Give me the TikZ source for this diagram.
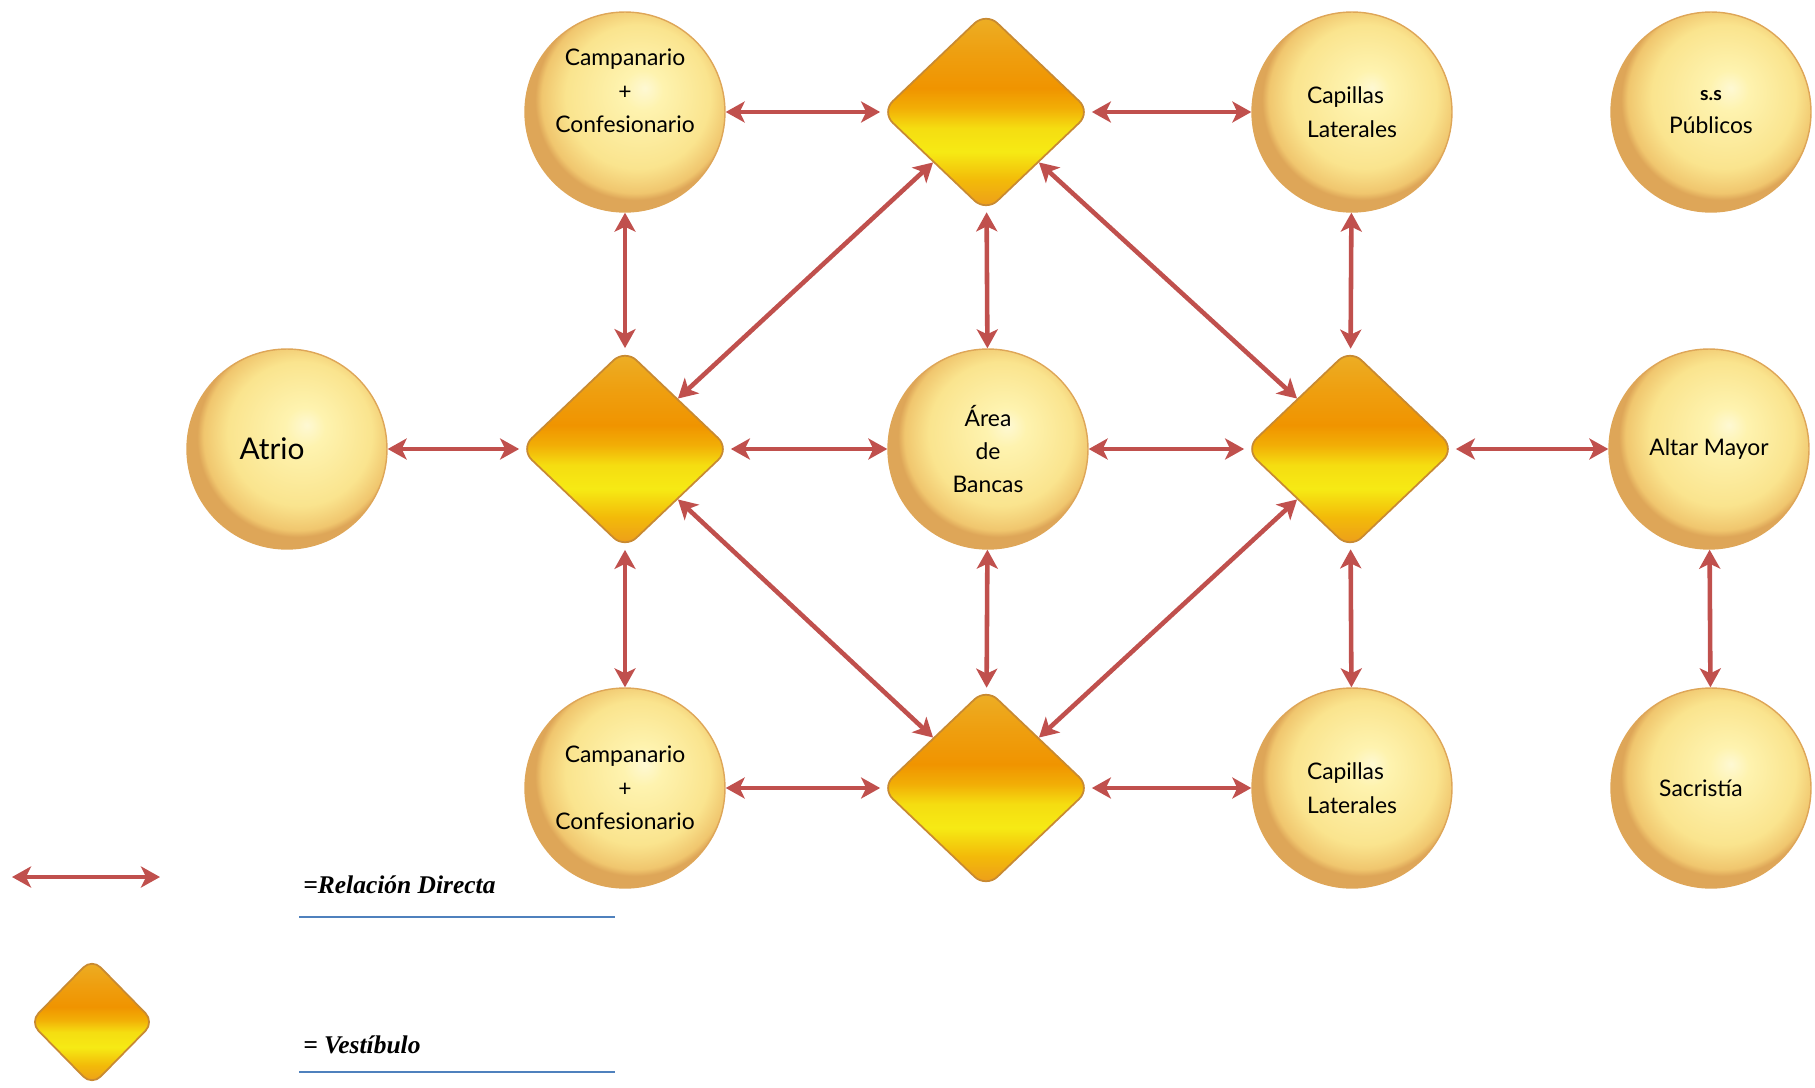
\documentclass[tikz,border=0pt]{standalone}
\usepackage{fontspec}
\setmainfont{Lato}
\newfontfamily\legendfont{Liberation Serif}
\usepackage{xcolor}
\usetikzlibrary{arrows.meta,positioning,shapes.geometric}

\definecolor{balllight}{RGB}{254,243,175}
\definecolor{ballmid}{RGB}{250,228,142}
\definecolor{ballrim}{RGB}{240,198,110}
\definecolor{balledge}{RGB}{222,166,88}
\definecolor{gemtop}{RGB}{236,176,40}
\definecolor{gemorange}{RGB}{240,148,0}
\definecolor{gemyellow}{RGB}{246,234,20}
\definecolor{gembottom}{RGB}{236,152,30}
\definecolor{gemedge}{RGB}{200,138,50}
\definecolor{linkred}{RGB}{192,80,77}
\definecolor{legblue}{RGB}{79,129,189}

\pgfdeclareradialshading{ballshade}{\pgfpoint{5bp}{6bp}}{color(0bp)=(white!45!balllight); color(5bp)=(balllight); color(18bp)=(ballmid); color(23.5bp)=(ballrim); color(25bp)=(balledge); color(50bp)=(balledge)}
\pgfdeclareverticalshading{gemshade}{100bp}{color(0bp)=(gembottom); color(25bp)=(gembottom); color(33bp)=(gemyellow!45!gemorange); color(40bp)=(gemyellow); color(46bp)=(gemyellow!85!gemorange); color(51bp)=(gemyellow!30!gemorange); color(56bp)=(gemorange); color(65bp)=(gemorange!60!gemtop); color(75bp)=(gemtop); color(100bp)=(gemtop)}

\begin{document}
\begin{tikzpicture}[
    x=0.02cm, y=-0.02cm,
    >={Stealth[length=0.38cm, width=0.42cm, inset=0.1cm]},
    font=\fontsize{13}{19}\selectfont,
    ball/.style={circle, minimum size=4cm, inner sep=0pt, align=center,
      draw=balledge, line width=0.8pt, shade, shading=ballshade},
    gem/.style={diamond, minimum width=4.2cm, minimum height=4cm, inner sep=0pt,
      rounded corners=9pt, draw=gemedge, line width=1pt, shade, shading=gemshade},
    link/.style={<->, draw=linkred, line width=2.6pt},
    legtext/.style={anchor=base west, inner sep=0pt,
      font=\legendfont\fontsize{14.5}{16}\selectfont\bfseries\itshape},
    legline/.style={draw=legblue, line width=1.3pt},
  ]
  \useasboundingbox (0,0) rectangle (1815,1088);

  % Top row
  \node[ball, text depth=0.84cm] (campA) at (625,112) {Campanario\\+\\Confesionario};
  \node[gem] (vestN) at (986,112) {};
  \node[ball, align=left] (capA) at (1352,112) {Capillas\\Laterales};
  \node[ball] (sspub) at (1711,112) {{\fontsize{11}{19}\selectfont\bfseries s.s}\\Públicos};

  % Middle row
  \node[ball, font=\fontsize{17}{20}\selectfont] (atrio) at (287,449) {Atrio\hspace{0.6cm}};
  \node[gem] (vestW) at (625,449) {};
  \node[ball] (bancas) at (988,449) {Área\\de\\Bancas};
  \node[gem] (vestE) at (1350,449) {};
  \node[ball] (altar) at (1709,449) {Altar Mayor};

  % Bottom row
  \node[ball] (campB) at (625,788) {Campanario\\+\\Confesionario};
  \node[gem] (vestS) at (986,788) {};
  \node[ball, align=left] (capB) at (1352,788) {Capillas\\Laterales};
  \node[ball] (sacristia) at (1711,788) {Sacristía\hspace{0.4cm}};

  % Edges
  \draw[link] (campA) -- (vestN);
  \draw[link] (vestN) -- (capA);
  \draw[link] (campA) -- (vestW);
  \draw[link] (vestN) -- (bancas);
  \draw[link] (capA) -- (vestE);
  \draw[link] (vestN.south west) -- (vestW.north east);
  \draw[link] (vestN.south east) -- (vestE.north west);
  \draw[link] (atrio) -- (vestW);
  \draw[link] (vestW) -- (bancas);
  \draw[link] (bancas) -- (vestE);
  \draw[link] (vestE) -- (altar);
  \draw[link] (vestW) -- (campB);
  \draw[link] (vestW.south east) -- (vestS.north west);
  \draw[link] (bancas) -- (vestS);
  \draw[link] (vestE.south west) -- (vestS.north east);
  \draw[link] (vestE) -- (capB);
  \draw[link] (altar) -- (sacristia);
  \draw[link] (campB) -- (vestS);
  \draw[link] (vestS) -- (capB);

  % Legend
  \coordinate (legL) at (12,877);
  \coordinate (legR) at (160,877);
  \draw[link] (legL) -- (legR);
  \node[gem, minimum width=2.5cm, minimum height=2.55cm, rounded corners=7pt] (legGem) at (92,1022) {};
  \node[legtext] (legRel) at (303,893) {=Relación Directa};
  \node[legtext] (legVest) at (303,1053) {= Vestíbulo};
  \draw[legline] (299,917) -- (615,917);
  \draw[legline] (299,1072) -- (615,1072);
\end{tikzpicture}
\end{document}
